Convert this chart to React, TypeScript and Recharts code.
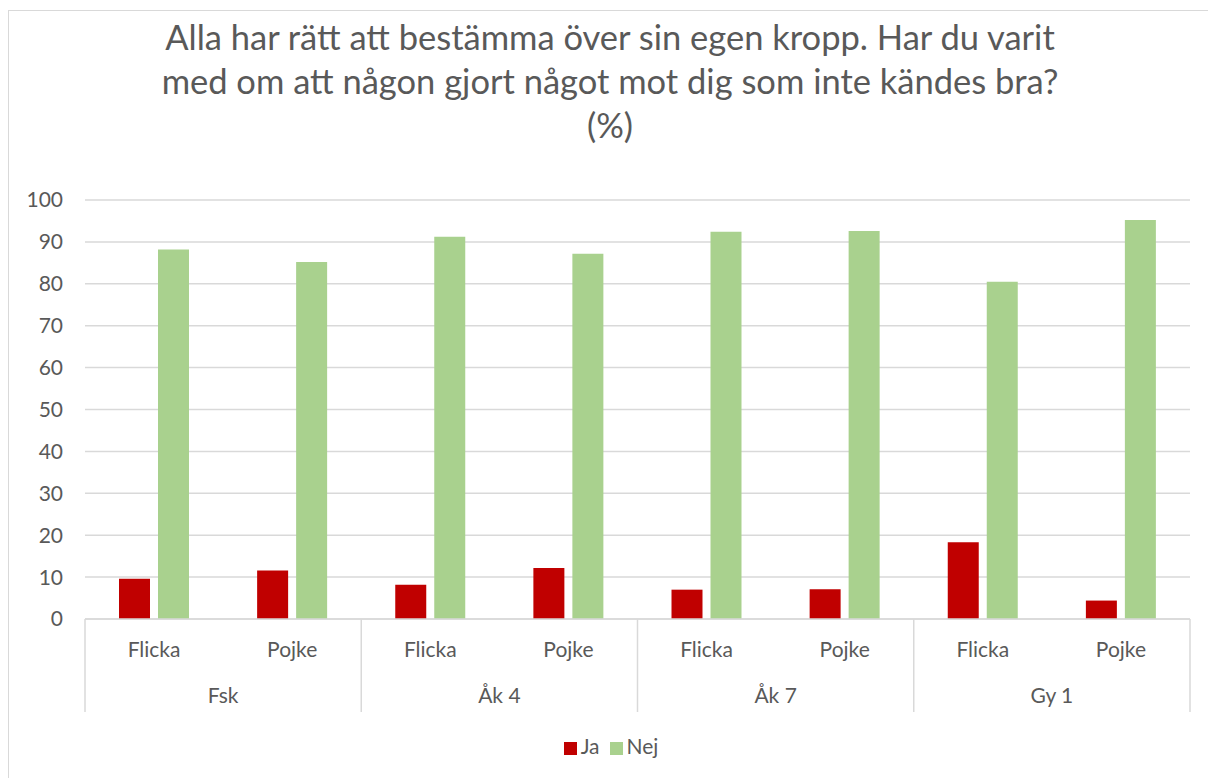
import { BarChart, Bar, XAxis, YAxis, CartesianGrid, Legend } from 'recharts';

const GROUPS = ['Fsk', 'Åk 4', 'Åk 7', 'Gy 1'];
const GENDERS = ['Flicka', 'Pojke'];
const JA = [9.6, 11.6, 8.2, 12.2, 7.0, 7.1, 18.3, 4.4];
const NEJ = [88.2, 85.2, 91.2, 87.2, 92.4, 92.6, 80.5, 95.2];
const Y_TICKS = [0, 10, 20, 30, 40, 50, 60, 70, 80, 90, 100];
const TITLE = [
  'Alla har rätt att bestämma över sin egen kropp. Har du varit',
  'med om att någon gjort något mot dig som inte kändes bra?',
  '(%)',
];

const data = JA.map((v, i) => ({
  id: i,
  group: GROUPS[Math.floor(i / 2)],
  sub: GENDERS[i % 2],
  Ja: v,
  Nej: NEJ[i],
}));

const W = 1208;
const H = 778;
const FONT = 'Lato, "Open Sans", sans-serif';
const TEXT = '#595959';
const LINE = '#d9d9d9';
// plot bottom and bottom of the two-level axis
const AXIS_TOP = 619;
const AXIS_BOTTOM = 712;

// group label + the vertical dividers between groups
const GroupTick = (props: any) => {
  const { x, payload, index, visibleTicksCount } = props;
  const half = payload?.offset ?? 138;
  const last = index === (visibleTicksCount ?? GROUPS.length) - 1;
  return (
    <g>
      <line x1={x - half} x2={x - half} y1={AXIS_TOP} y2={AXIS_BOTTOM} stroke={LINE} strokeWidth={1.5} />
      {last && (
        <line x1={x + half} x2={x + half} y1={AXIS_TOP} y2={AXIS_BOTTOM} stroke={LINE} strokeWidth={1.5} />
      )}
      <text x={x} y={703} textAnchor="middle" fill={TEXT} fontSize={21} fontFamily={FONT}>
        {payload.value}
      </text>
    </g>
  );
};

export default function App() {
  return (
    <div style={{ position: 'fixed', left: 0, top: 0, width: W, height: H, overflow: 'hidden', background: '#fff' }}>
      <div
        style={{
          position: 'absolute', left: 8, top: 10, width: 1210, height: 780,
          borderLeft: `1.5px solid ${LINE}`, borderTop: `1.5px solid ${LINE}`,
        }}
      />
      <div
        style={{
          position: 'absolute', left: 0, top: 15, width: 1220, textAlign: 'center',
          fontFamily: FONT, fontSize: 34.5, lineHeight: '44px', color: TEXT,
        }}
      >
        {TITLE.map((t) => (
          <div key={t}>{t}</div>
        ))}
      </div>
      <div style={{ position: 'absolute', left: 0, top: 0 }}>
        <BarChart
          width={W}
          height={H}
          data={data}
          margin={{ top: 200, right: 18, left: 0, bottom: 40 }}
          barCategoryGap={34}
          barGap={8}
        >
          <CartesianGrid vertical={false} stroke={LINE} strokeWidth={1.5} />
          <XAxis
            dataKey="sub"
            height={47}
            axisLine={{ stroke: LINE, strokeWidth: 1.5 }}
            tickLine={false}
            tickMargin={17}
            tick={{ fill: TEXT, fontSize: 21, fontFamily: FONT }}
          />
          <XAxis
            xAxisId="group"
            dataKey="group"
            allowDuplicatedCategory={false}
            height={46}
            axisLine={false}
            tickLine={false}
            tick={<GroupTick />}
          />
          <YAxis
            width={85}
            domain={[0, 100]}
            ticks={Y_TICKS}
            axisLine={false}
            tickLine={false}
            tickMargin={16}
            tick={{ fill: TEXT, fontSize: 21, fontFamily: FONT }}
          />
          <Legend
            iconType="square"
            iconSize={13}
            wrapperStyle={{ top: 733, bottom: 'auto', left: 12, width: W, height: 26, fontFamily: FONT, fontSize: 21 }}
            formatter={(v: string) => <span style={{ color: TEXT }}>{v}</span>}
          />
          <Bar dataKey="Ja" fill="#C00000" isAnimationActive={false} />
          <Bar dataKey="Nej" fill="#A9D18E" isAnimationActive={false} />
        </BarChart>
      </div>
    </div>
  );
}
